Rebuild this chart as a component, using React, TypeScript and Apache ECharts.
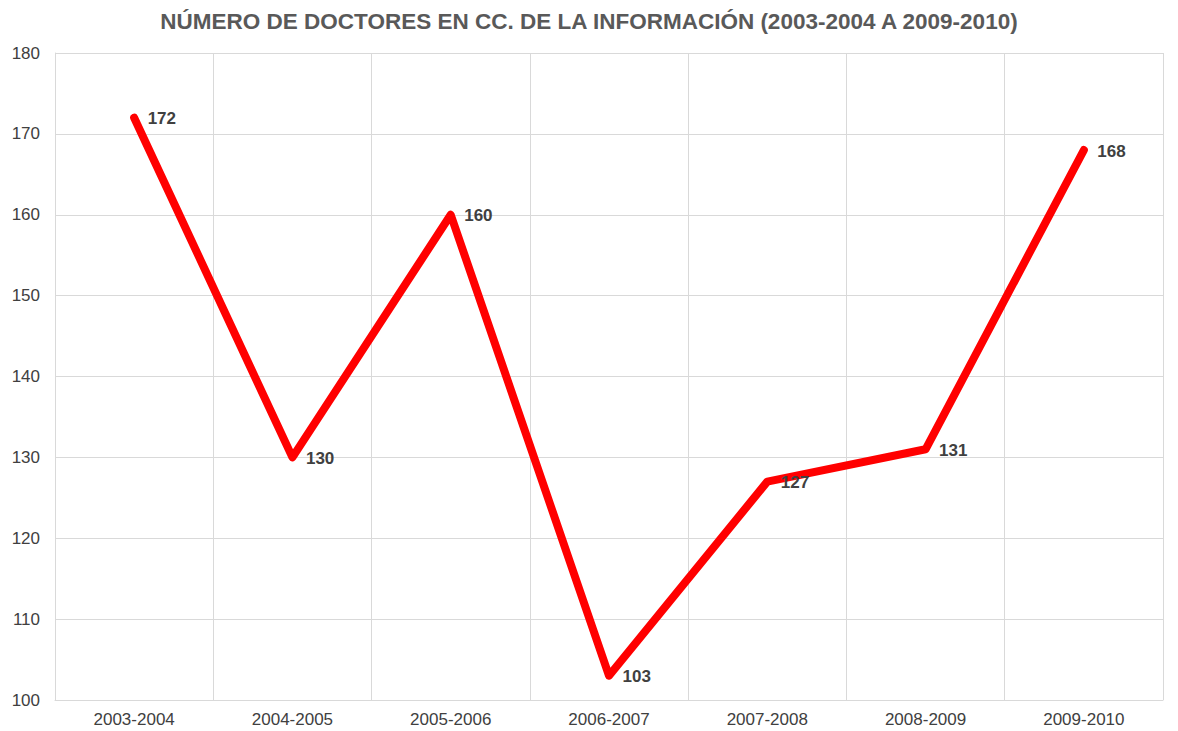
import React, { useEffect, useRef } from "react";
import * as echarts from "echarts";

const categories = ["2003-2004", "2004-2005", "2005-2006", "2006-2007", "2007-2008", "2008-2009", "2009-2010"];
const values = [172, 130, 160, 103, 127, 131, 168];
const yMin = 100;
const yMax = 180;
const yInterval = 10;
const titleText = "NÚMERO DE DOCTORES EN CC. DE LA INFORMACIÓN (2003-2004 A 2009-2010)";

export default function App() {
  const ref = useRef<HTMLDivElement>(null);
  useEffect(() => {
    if (!ref.current) return;
    const chart = echarts.init(ref.current, undefined, { renderer: "svg" });
    chart.setOption({
      animation: false,
      backgroundColor: "#ffffff",
      textStyle: { fontFamily: "Liberation Sans, Arial, sans-serif" },
      title: {
        text: titleText,
        left: "center",
        top: 5,
        textStyle: { fontSize: 22.5, fontWeight: "bold", color: "#595959", fontFamily: "Liberation Sans, Arial, sans-serif" },
      },
      grid: { left: 55, right: 15, top: 53, bottom: 31, containLabel: false },
      xAxis: {
        type: "category",
        data: categories,
        boundaryGap: true,
        axisLine: { show: true, lineStyle: { color: "#d9d9d9", width: 1 } },
        axisTick: { show: false },
        splitLine: { show: true, lineStyle: { color: "#d9d9d9", width: 1 } },
        axisLabel: { color: "#404040", fontSize: 17, margin: 11, interval: 0 },
      },
      yAxis: {
        type: "value",
        min: yMin,
        max: yMax,
        interval: yInterval,
        axisLine: { show: true, lineStyle: { color: "#d9d9d9" } },
        axisTick: { show: false },
        splitLine: { show: true, lineStyle: { color: "#d9d9d9", width: 1 } },
        axisLabel: { color: "#404040", fontSize: 17, margin: 15 },
      },
      series: [
        {
          type: "line",
          data: values,
          symbol: "circle",
          symbolSize: 1,
          showSymbol: true,
          itemStyle: { color: "#ff0000" },
          lineStyle: { color: "#ff0000", width: 8, cap: "round", join: "round" },
          label: {
            show: true,
            position: "right",
            distance: 13,
            offset: [0, 1],
            color: "#404040",
            fontSize: 17,
            fontWeight: "bold",
          },
        },
      ],
    });
    return () => chart.dispose();
  }, []);
  return <div ref={ref} style={{ position: "fixed", left: 0, top: 0, width: 1178, height: 731 }} />;
}
